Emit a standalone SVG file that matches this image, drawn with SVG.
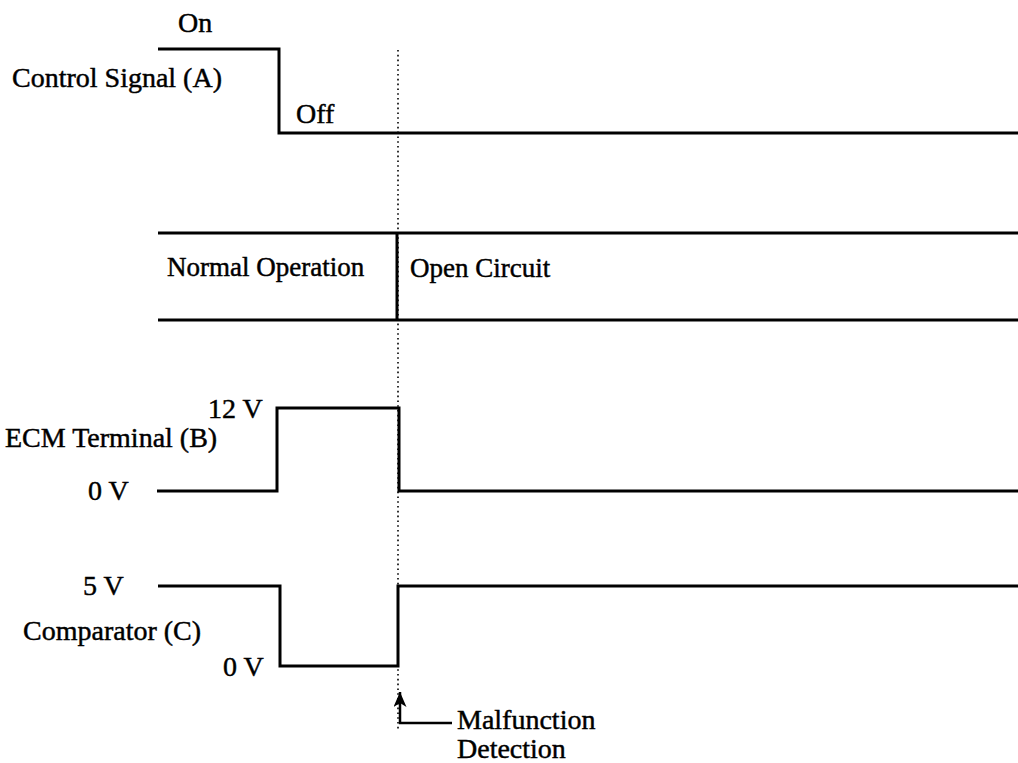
<svg xmlns="http://www.w3.org/2000/svg" width="1018" height="763" viewBox="0 0 1018 763">
<style>
.t{font-family:"Liberation Serif","Times New Roman",serif;font-size:28px;fill:#000;stroke:#000;stroke-width:0.45}
.b{font-size:27px}
.w{fill:none;stroke:#000;stroke-width:3;stroke-linejoin:miter;stroke-linecap:butt}
.d{fill:none;stroke:#000;stroke-width:1.6;stroke-dasharray:1.6 3.2}
.a{fill:none;stroke:#000;stroke-width:2.5}
</style>
<defs>
<marker id="ah" viewBox="0 0 15 13" refX="15" refY="6.5" markerWidth="15" markerHeight="13" orient="auto" markerUnits="userSpaceOnUse">
<path d="M0,0 L15,6.5 L0,13 L4,6.5 z" fill="#000"/>
</marker>
</defs>
<rect width="1018" height="763" fill="#fff"/>
<g id="connectors">
<path class="d" d="M398,50 V730"/>
<path class="a" d="M452,723 H400 V692" marker-end="url(#ah)"/>
</g>
<g id="control-signal">
<path class="w" d="M158,49 H279 V133 H1018"/>
<text class="t" x="178" y="32">On</text>
<text class="t" x="12" y="87">Control Signal (A)</text>
<text class="t" x="296" y="123">Off</text>
</g>
<g id="state-band">
<path class="w" d="M158,233 H1018 M158,320 H1018 M397,233 V320"/>
<text class="t b" x="167" y="276">Normal Operation</text>
<text class="t b" x="410" y="277">Open Circuit</text>
</g>
<g id="ecm-terminal">
<path class="w" d="M157,491 H277 V408 H399 V491 H1018"/>
<text class="t" x="208" y="418">12 V</text>
<text class="t" x="5" y="447">ECM Terminal (B)</text>
<text class="t" x="88" y="500">0 V</text>
</g>
<g id="comparator">
<path class="w" d="M158,586 H280 V666 H398 V586 H1018"/>
<text class="t" x="83" y="595">5 V</text>
<text class="t" x="23" y="640">Comparator (C)</text>
<text class="t" x="223" y="676">0 V</text>
</g>
<g id="malfunction-label">
<text class="t" x="457" y="729">Malfunction</text>
<text class="t" x="457" y="758">Detection</text>
</g>
</svg>
